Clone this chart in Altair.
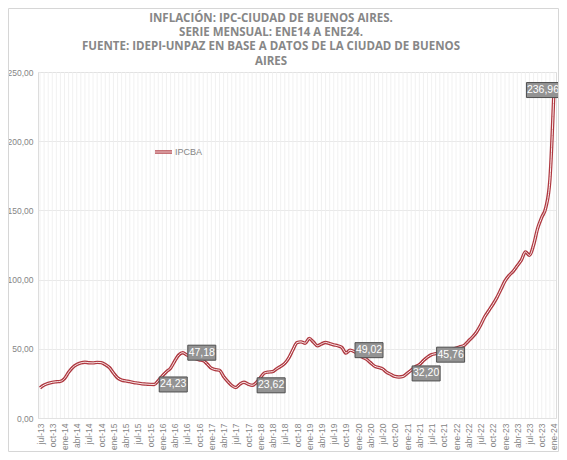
import altair as alt
import pandas as pd

# ---------------- data ----------------
MESES = ["ene", "feb", "mar", "abr", "may", "jun", "jul", "ago", "sep", "oct", "nov", "dic"]
ANIOS = list(range(2013, 2025))
MES_INICIO = 6   # jul-13
MES_FIN = 0      # ene-24

meses = []
for a in ANIOS:
    for m in range(12):
        if a == ANIOS[0] and m < MES_INICIO:
            continue
        if a == ANIOS[-1] and m > MES_FIN:
            continue
        meses.append(f"{MESES[m]}-{a % 100:02d}")

SERIE = "IPCBA"
ipcba = [
    21.8, 23.8, 25.0, 25.8, 26.2, 26.5,                                   # jul-13..dic-13
    28.5, 33.0, 36.5, 38.6, 39.8, 40.3, 39.9, 39.8, 40.2, 40.0, 38.6, 36.5,  # 2014
    32.5, 29.0, 27.4, 26.8, 26.3, 25.6, 25.2, 24.7, 24.5, 24.3, 24.23, 27.0, # 2015
    30.5, 33.5, 36.0, 41.0, 45.5, 47.18, 45.5, 44.5, 43.0, 42.0, 41.5, 39.0, # 2016
    36.0, 35.0, 34.5, 30.0, 26.5, 23.5, 22.0, 24.5, 25.8, 24.5, 23.62, 25.5, # 2017
    29.0, 32.5, 33.2, 33.5, 35.5, 37.3, 39.5, 43.5, 49.3, 54.5, 55.0, 54.0,  # 2018
    57.5, 55.0, 52.2, 53.5, 54.6, 53.8, 52.9, 52.2, 51.0, 46.9, 49.02, 48.0, # 2019
    46.0, 44.0, 42.5, 40.0, 37.5, 36.5, 35.5, 33.0, 31.5, 30.0, 29.6, 30.0,  # 2020
    32.2, 34.5, 37.0, 38.5, 41.5, 44.0, 45.76, 46.5, 47.0, 47.8, 48.5, 49.5, # 2021
    50.5, 51.5, 52.5, 55.5, 58.5, 62.0, 67.0, 73.0, 77.5, 82.0, 87.0, 93.0,  # 2022
    99.0, 103.0, 106.0, 110.0, 114.0, 120.0, 117.5, 125.0, 137.0, 145.0, 152.0, 172.0,  # 2023
    236.96,                                                                # ene-24
]
# months carrying a value label
etiquetas_der = ["nov-15", "jun-16", "nov-17", "nov-19", "ene-21", "jul-21"]
etiqueta_fin = ["ene-24"]

TITULO = [
    "INFLACIÓN: IPC-CIUDAD DE BUENOS AIRES." + "\u00a0" * 12,
    "SERIE MENSUAL: ENE14 A ENE24.",
    "FUENTE: IDEPI-UNPAZ EN BASE A DATOS DE LA CIUDAD DE BUENOS",
    "AIRES",
]
Y_TICKS = [0, 50, 100, 150, 200, 250]

df = pd.DataFrame({"mes": meses, "v": ipcba})

# ---------------- chart ----------------
W, H = 518, 346
FONT = "Liberation Sans"
GRAY = "#858585"

xscale = alt.Scale(type="point", padding=0.5)
xax = alt.Axis(values=meses[::3], labelAngle=270, grid=False, ticks=False, domain=False,
               labelFontSize=8.5, labelColor=GRAY, labelFont=FONT, labelPadding=5, title=None)
yscale = alt.Scale(domain=[0, 250], nice=False)
yax = alt.Axis(values=Y_TICKS, labelExpr="replace(format(datum.value, '.2f'), '.', ',')",
               grid=True, gridColor="#e3e3e3", gridWidth=0.8, domain=False, ticks=False,
               labelFontSize=8.5, labelColor=GRAY, labelFont=FONT, labelPadding=5, title=None)

base = alt.Chart(df)

vgrid = base.mark_rule(color="#eeeeee", strokeWidth=0.8).encode(
    x=alt.X("mes:O", sort=meses, scale=xscale, axis=xax),
)

LINE_OUT = "#AE3840"
LINE_IN = "#FCEFEF"
line_out = base.mark_line(color=LINE_OUT, strokeWidth=3.4, interpolate="monotone").encode(
    x=alt.X("mes:O", sort=meses, scale=xscale),
    y=alt.Y("v:Q", scale=yscale, axis=yax),
)
line_in = base.mark_line(color=LINE_IN, strokeWidth=1.0, interpolate="monotone").encode(
    x=alt.X("mes:O", sort=meses, scale=xscale),
    y=alt.Y("v:Q", scale=yscale),
)

lab = base.transform_calculate(
    txt="replace(format(datum.v, '.2f'), '.', ',')"
)
lab_der = lab.transform_filter(alt.FieldOneOfPredicate(field="mes", oneOf=etiquetas_der))
lab_fin = lab.transform_filter(alt.FieldOneOfPredicate(field="mes", oneOf=etiqueta_fin))

BOX_FILL = "#939393"
BOX_STROKE = "#4f4f4f"
box_der = lab_der.mark_rect(width=28, height=15, xOffset=19, fill=BOX_FILL,
                            stroke=BOX_STROKE, strokeWidth=1).encode(
    x=alt.X("mes:O", sort=meses, scale=xscale),
    y=alt.Y("v:Q", scale=yscale),
)
txt_der = lab_der.mark_text(xOffset=19, fontSize=10.5, font=FONT, color="white",
                            align="center", baseline="middle").encode(
    x=alt.X("mes:O", sort=meses, scale=xscale),
    y=alt.Y("v:Q", scale=yscale),
    text="txt:N",
)
box_fin = lab_fin.mark_rect(width=33, height=15, xOffset=-11, fill=BOX_FILL,
                            stroke=BOX_STROKE, strokeWidth=1).encode(
    x=alt.X("mes:O", sort=meses, scale=xscale),
    y=alt.Y("v:Q", scale=yscale),
)
txt_fin = lab_fin.mark_text(xOffset=-11, fontSize=10.5, font=FONT, color="white",
                            align="center", baseline="middle").encode(
    x=alt.X("mes:O", sort=meses, scale=xscale),
    y=alt.Y("v:Q", scale=yscale),
    text="txt:N",
)

leg_df = pd.DataFrame({"s": [SERIE]})
leg_out = alt.Chart(leg_df).mark_rule(color=LINE_OUT, strokeWidth=3.4).encode(
    x=alt.value(117), x2=alt.value(134), y=alt.value(80))
leg_in = alt.Chart(leg_df).mark_rule(color=LINE_IN, strokeWidth=1.0).encode(
    x=alt.value(117), x2=alt.value(134), y=alt.value(80))
leg_txt = alt.Chart(leg_df).mark_text(align="left", baseline="middle", fontSize=9,
                                      font=FONT, color=GRAY).encode(
    x=alt.value(137), y=alt.value(80), text="s:N")

title = alt.Chart(leg_df).mark_text(
    align="center", baseline="top", fontSize=11.5, font="Open Sans", fontWeight="bold",
    color="#878787", lineHeight=14.2,
).encode(x=alt.value(233), y=alt.value(-59), text=alt.value(TITULO))

frame = alt.Chart(leg_df).mark_rect(fillOpacity=0, stroke="#d6d6d6", strokeWidth=1).encode(
    x=alt.value(-29.5), x2=alt.value(W + 2.5), y=alt.value(-63.5), y2=alt.value(H + 33.5))

chart = alt.layer(
    vgrid, line_out, line_in, box_der, txt_der, box_fin, txt_fin,
    leg_out, leg_in, leg_txt, title, frame,
).properties(
    width=W, height=H,
    padding={"left": 30, "top": 64, "right": 3, "bottom": 34},
    autosize=alt.AutoSizeParams(type="none"),
).configure_view(stroke=None).configure(background="white")

chart.save("out.html", embed_options={"renderer": "svg", "actions": False})
